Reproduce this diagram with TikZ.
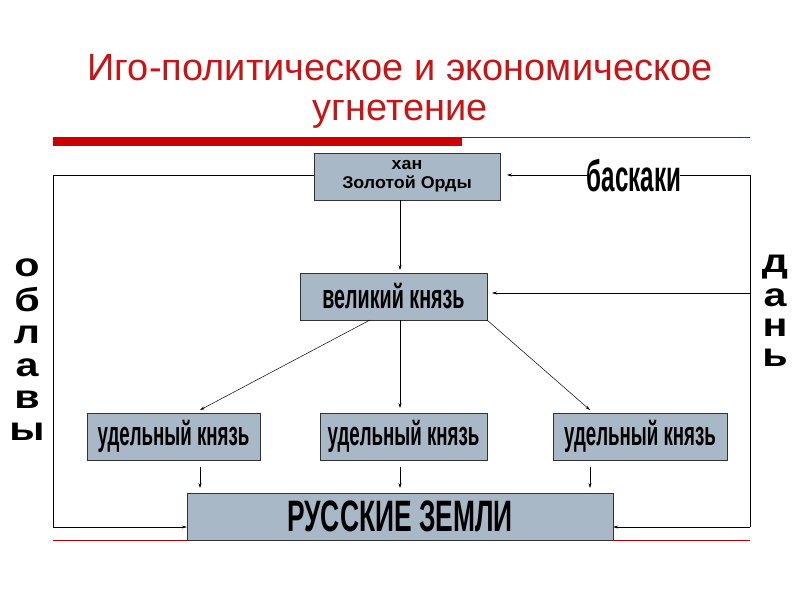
\documentclass[tikz,border=0pt]{standalone}
\usepackage{fontspec}
\setmainfont{Liberation Sans}
\usetikzlibrary{arrows.meta}
\begin{document}
\begin{tikzpicture}[x=1pt,y=-1pt,
  box/.style={draw=black!80,fill={rgb,255:red,168;green,184;blue,198},minimum height=47pt,inner sep=0pt},
  arr/.style={-{Stealth[length=5pt,width=3pt]},black,line width=0.5pt},
  nar/.style={font=\bfseries\fontsize{34}{34}\selectfont},
  vl/.style={font=\bfseries\fontsize{33}{33}\selectfont,inner sep=0pt}]
\useasboundingbox (0,0) rectangle (800,600);
\fill[white] (0,0) rectangle (800,600);
\node[text={rgb,255:red,200;green,20;blue,20},font=\fontsize{38}{40}\selectfont,align=center] (title) at (400,91) {Иго-политическое и экономическое\\угнетение};
\fill[red!80!black] (53,137) rectangle (462,146);
\draw[red!70!black,line width=0.6pt] (462,137) -- (750,137);
\draw[red!70!black,line width=0.6pt] (53,540) -- (750,540);
\node[box,minimum width=186pt] (khan) at (407,176.5) {};
\node[font=\bfseries\fontsize{17}{19}\selectfont,align=center,inner sep=0pt] at (khan) {\scalebox{1.05}[1]{хан}\\\scalebox{1.05}[1]{Золотой Орды}};
\node[box,minimum width=187pt] (vel) at (393.5,296.5) {};
\node[nar] at (vel) {\scalebox{0.58}[1]{великий князь}};
\node[box,minimum width=173pt] (u1) at (173.5,436.5) {};
\node[nar] at (u1) {\scalebox{0.55}[1]{удельный князь}};
\node[box,minimum width=167pt] (u2) at (403.5,436.5) {};
\node[nar] at (u2) {\scalebox{0.55}[1]{удельный князь}};
\node[box,minimum width=174pt] (u3) at (640,436.5) {};
\node[nar] at (u3) {\scalebox{0.55}[1]{удельный князь}};
\node[box,minimum width=426pt] (rus) at (400,516.5) {};
\node[font=\bfseries\fontsize{44}{44}\selectfont] at (rus) {\scalebox{0.6}[1]{РУССКИЕ ЗЕМЛИ}};
\coordinate (lt) at (53,175); \coordinate (lb) at (53,527);
\coordinate (rt) at (750,175); \coordinate (rb) at (750,527); \coordinate (rm) at (750,293);
\draw[line width=0.5pt] (khan.west |- lt) -- (lt) -- (lb);
\draw[arr] (lb) -- (rus.west |- lb);
\draw[line width=0.5pt] (rb) -- (rt) -- (680,175);
\draw[arr] (588,175) -- (507,175);
\node[font=\bfseries\fontsize{44}{44}\selectfont] (bask) at (634,176) {\scalebox{0.55}[1]{баскаки}};
\draw[arr] (rm) -- (492,293);
\draw[arr] (rb) -- (rus.east |- rb);
\draw[arr] (400,200) -- (400,270);
\draw[arr] (400,320) -- (400,408);
\draw[arr] (370,320) -- (200,410);
\draw[arr] (487,320) -- (590,410);
\foreach \x in {200,400,590} \draw[arr] (\x,467) -- (\x,488);
\foreach \t/\y in {о/268,б/300,л/335,а/368,в/400,ы/432} \node[vl] at (27,\y) {\scalebox{1.25}[1]{\t}};
\foreach \t/\y in {д/267,а/298,н/328,ь/358} \node[vl] at (775,\y) {\scalebox{1.25}[1]{\t}};
\end{tikzpicture}
\end{document}
